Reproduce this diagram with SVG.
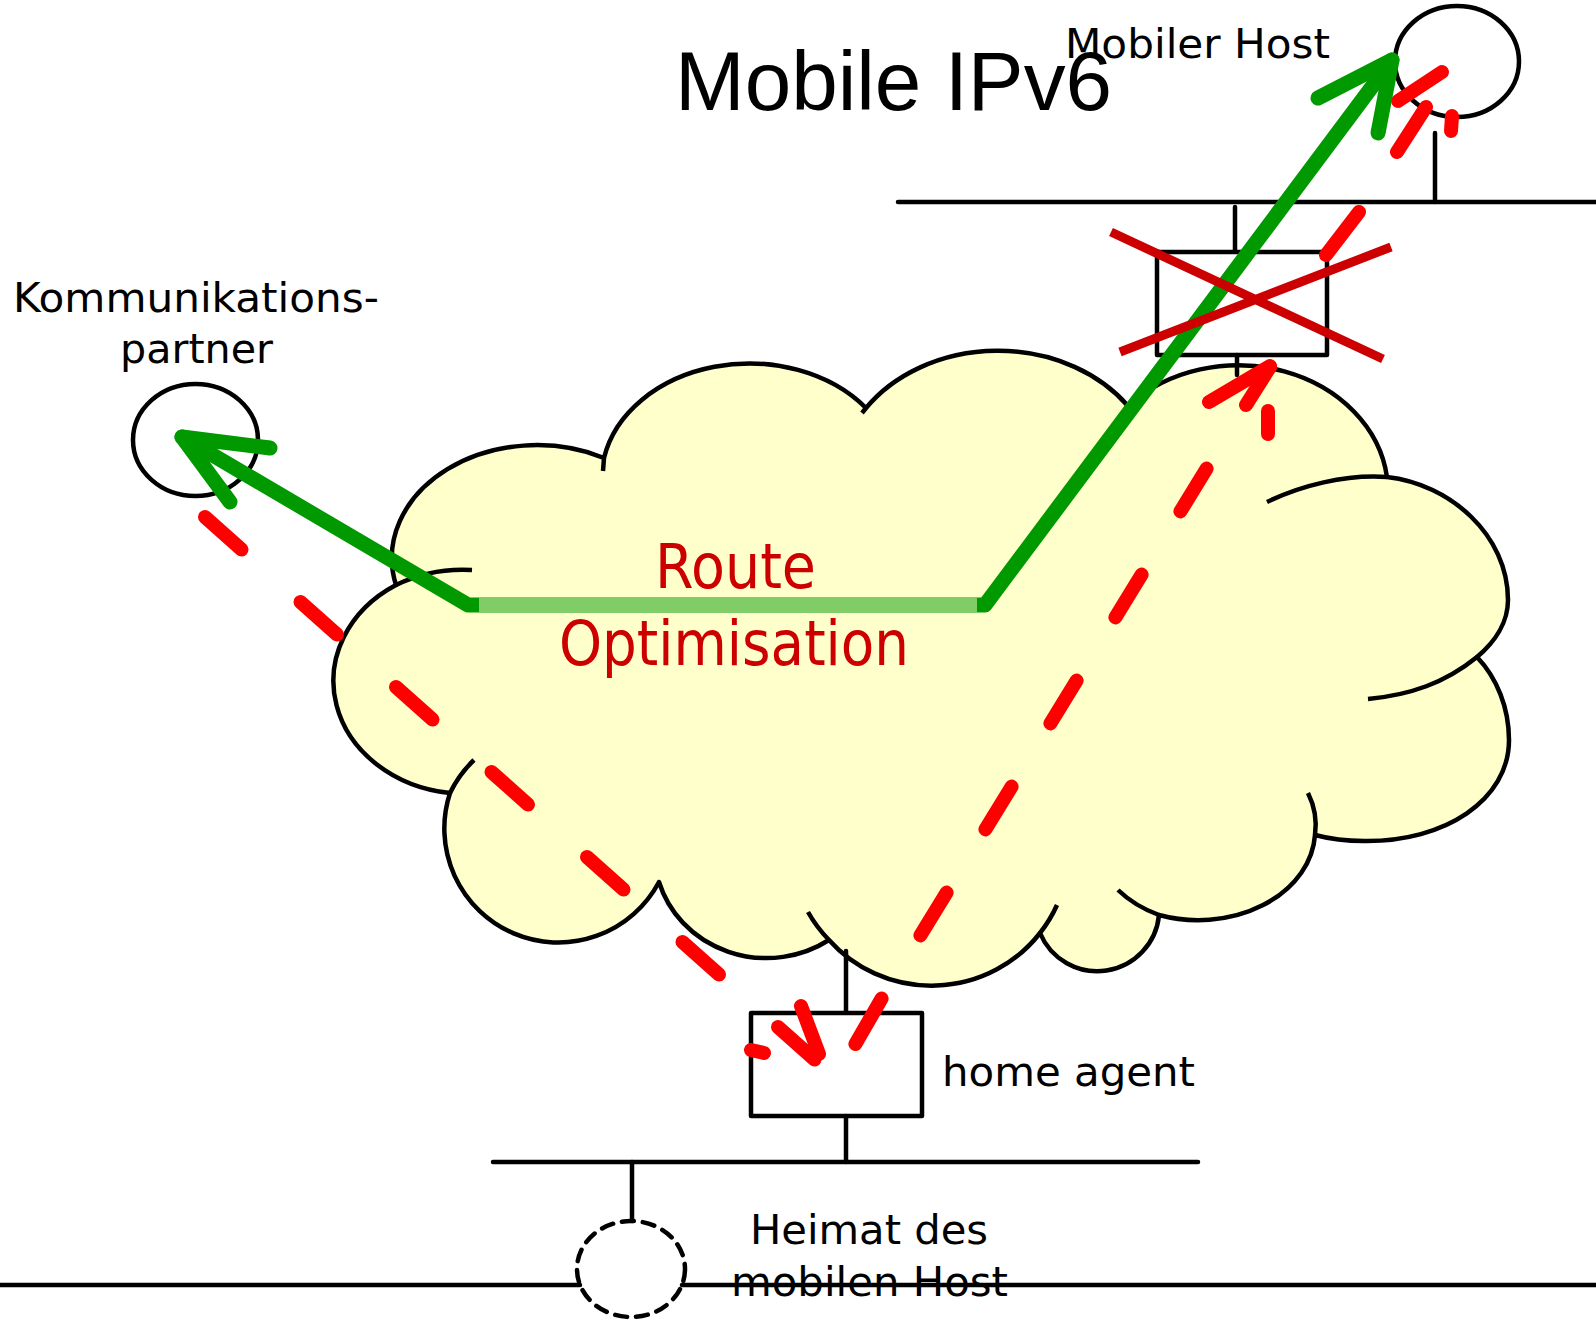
<svg xmlns="http://www.w3.org/2000/svg" width="1596" height="1320" viewBox="0 0 1596 1320">
<style>
.ln{stroke:#000;stroke-width:4.5;fill:none;stroke-linecap:round}
.box{stroke:#000;stroke-width:4.5;fill:#fff;stroke-linejoin:round}
.cl{stroke:#000;stroke-width:4.5;fill:none;stroke-linejoin:round}
.cloud{stroke:#000;stroke-width:4.5;fill:#ffffcc;stroke-linejoin:round}
.red{stroke:#ff0000;stroke-width:14;stroke-linecap:round;fill:none}
.grn{stroke:#009900;stroke-width:15;stroke-linecap:round;stroke-linejoin:round;fill:none}
.x{stroke:#cc0000;stroke-width:9;stroke-linecap:butt;fill:none}
.t{font-family:"DejaVu Sans",Verdana,sans-serif;fill:#000;font-size:40px}
.rt{font-family:"DejaVu Sans",Verdana,sans-serif;fill:#cc0000;font-size:62px}
</style>
<rect width="1596" height="1320" fill="#fff"/>
<text x="675" y="110" font-family="'Liberation Sans',Arial,sans-serif" font-size="84" fill="#000" textLength="437" lengthAdjust="spacingAndGlyphs">Mobile IPv6</text>

<g id="networks">
<path class="ln" d="M898,202 H1596"/>
<path class="ln" d="M493,1162 H1198"/>
<path class="ln" d="M0,1285 H580 M682,1285 H1596"/>
</g>

<g id="internet">
<path class="cloud" d="M396,585 A145,113 0 0 1 604,458 A148,116 0 0 1 866,408 A160,132 0 0 1 1128,406 A150,127 0 0 1 1387,477 C1450,484 1508,535 1508,600 C1508,622 1495,642 1477,657 C1497,678 1509,708 1509,740 C1509,800 1445,842 1364,841 C1346,841 1330,839 1315,835 A117,90 0 0 1 1159,915 A62,62 0 0 1 1040,933 A136,133 0 0 1 829,940 A112,106 0 0 1 659,882 A114,114 0 0 1 450,793 A133,113 0 0 1 396,585 Z"/>
<path class="cl" d="M396,585 A133,113 0 0 1 472,570"/>
<path class="cl" d="M450,793 A114,114 0 0 1 474,760"/>
<path class="cl" d="M829,940 A136,133 0 0 1 808,912"/>
<path class="cl" d="M1057,905 A136,133 0 0 1 1040,933"/>
<path class="cl" d="M1159,915 A117,90 0 0 1 1118,890"/>
<path class="cl" d="M1308,793 A117,90 0 0 1 1315,835"/>
<path class="cl" d="M1267,502 C1300,486 1345,474 1387,477"/>
<path class="cl" d="M1477,657 C1445,683 1410,695 1368,699"/>
<path class="cl" d="M603,471 L604,458 M866,408 L862,413"/>
</g>

<g id="kommunikationspartner">
<ellipse class="ln" cx="195.5" cy="440" rx="62.5" ry="56"/>
<text class="t" x="13" y="312" textLength="366" lengthAdjust="spacingAndGlyphs">Kommunikations-</text>
<text class="t" x="120" y="363" textLength="153" lengthAdjust="spacingAndGlyphs">partner</text>
</g>

<g id="mobiler-host">
<ellipse class="ln" cx="1457" cy="61.5" rx="62" ry="55.5"/>
<path class="ln" d="M1435,133 V202"/>
<text class="t" x="1065" y="58" font-size="42" textLength="265" lengthAdjust="spacingAndGlyphs">Mobiler Host</text>
</g>

<g id="router">
<path class="ln" d="M1235,207 V252"/>
<rect class="box" x="1157" y="252" width="170" height="103"/>
<path class="ln" d="M1237,355 V375"/>
</g>

<g id="home-agent">
<path class="ln" d="M846,951 V1013"/>
<rect class="box" x="751" y="1013" width="171" height="103"/>
<path class="ln" d="M846,1116 V1162"/>
<text class="t" x="942" y="1086" textLength="253" lengthAdjust="spacingAndGlyphs">home agent</text>
</g>

<g id="heimat">
<path class="ln" d="M632,1162 V1221"/>
<ellipse class="ln" cx="631" cy="1269" rx="54" ry="48" stroke-dasharray="12 9"/>
<text class="t" x="750" y="1244" font-size="41" textLength="238" lengthAdjust="spacingAndGlyphs">Heimat des</text>
<text class="t" x="731" y="1296" font-size="41" textLength="277" lengthAdjust="spacingAndGlyphs">mobilen Host</text>
</g>

<g id="connectors">
<g id="red-path-1">
<path class="red" d="M205,517 L241.5,549.5 M300.5,602 L337,634.5 M396,687 L432.5,719.5 M491.5,772 L528,804.5 M587,857 L623.5,889.5 M682.5,942 L719,974.5 M778,1027 L814.5,1059.5"/>
<path class="red" d="M801,1006 L819,1054 M751,1050 L764,1053"/>
</g>
<g id="red-path-2">
<path class="red" d="M1270,367 L1246,405 M1206.6,468.6 L1180.4,511.4 M1141.6,574.6 L1115.4,617.4 M1076.6,680.6 L1050.4,723.4 M1011.6,786.6 L985.4,829.4 M946.6,892.6 L920.4,935.4 M881.6,998.6 L855.4,1044"/>
<path class="red" d="M1270,366 L1209,402 M1268,411 L1268,434"/>
</g>
<g id="red-path-3">
<path class="red" d="M1359,212 L1326,255 M1426,107 L1397,152"/>
<path class="red" d="M1442,72 L1398,101 M1452,116 L1451,131"/>
</g>
<g id="green-path">
<path class="grn" d="M182,437 L468,605 L985,605 L1392,60"/>
<path class="grn" d="M270,448 L182,437 L230,502"/>
<path class="grn" d="M1318,98 L1392,60 L1378,133"/>
<path d="M479,605 H977" stroke="#80cc66" stroke-width="16" fill="none"/>
</g>
<g id="crossed-out">
<path class="x" d="M1111,232 L1383,359 M1120,352 L1391,247"/>
</g>
</g>

<g id="label-route">
<text class="rt" x="655" y="588" textLength="161" lengthAdjust="spacingAndGlyphs">Route</text>
<text class="rt" x="559" y="665" textLength="350" lengthAdjust="spacingAndGlyphs">Optimisation</text>
</g>
</svg>
